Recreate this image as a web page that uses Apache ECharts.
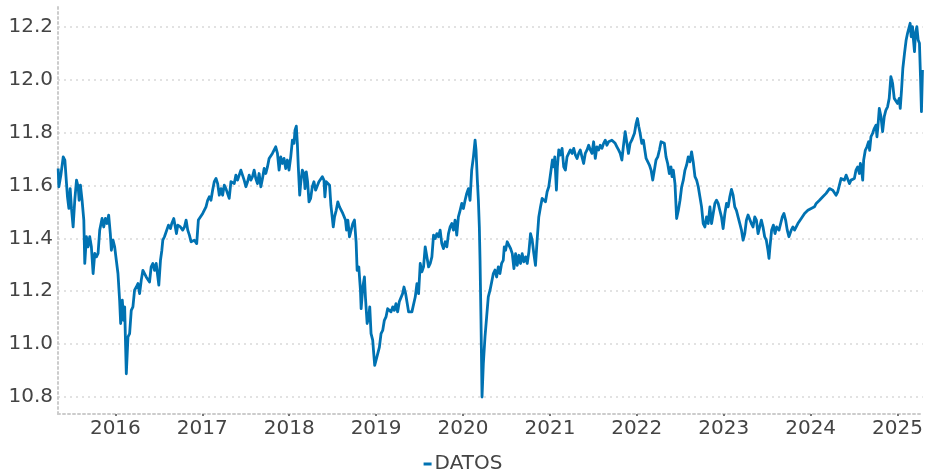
<!DOCTYPE html>
<html>
<head>
<meta charset="utf-8">
<script src="https://cdn.jsdelivr.net/npm/echarts@6/dist/echarts.min.js"></script>
<style>
  html, body { margin: 0; padding: 0; background: #ffffff; }
  #chart { width: 926px; height: 472px; }
</style>
</head>
<body>
<div id="chart"></div>
<script>
// ---- Data (decimal year, value) ----
const t2015 = [2015.342,2015.350,2015.373,2015.400,2015.419,2015.438,2015.449,2015.465,2015.480,2015.495,2015.514,2015.533,2015.553,2015.572,2015.583,2015.598,2015.617,2015.637,2015.648,2015.667,2015.686,2015.705,2015.724,2015.744,2015.763,2015.782,2015.801,2015.820,2015.847,2015.866,2015.885,2015.904,2015.923,2015.942,2015.954,2015.973,2015.992];
const v2015 = [11.664,11.595,11.639,11.708,11.696,11.607,11.557,11.513,11.588,11.513,11.443,11.544,11.620,11.595,11.544,11.601,11.544,11.469,11.305,11.406,11.368,11.406,11.368,11.267,11.343,11.330,11.343,11.431,11.475,11.443,11.475,11.456,11.488,11.418,11.355,11.393,11.368];

const t2016 = [2016.011,2016.030,2016.049,2016.061,2016.080,2016.095,2016.107,2016.118,2016.126,2016.145,2016.164,2016.183,2016.202,2016.221,2016.241,2016.260,2016.279,2016.298,2016.317,2016.336,2016.355,2016.374,2016.393,2016.412,2016.432,2016.451,2016.470,2016.489,2016.500,2016.519,2016.535,2016.546,2016.565,2016.584,2016.611,2016.634,2016.649,2016.672,2016.688,2016.703,2016.718,2016.749,2016.775,2016.795,2016.814,2016.833,2016.852,2016.871,2016.890,2016.909,2016.936,2016.955];
const v2016 = [11.317,11.267,11.166,11.078,11.166,11.090,11.141,10.989,10.888,11.027,11.040,11.128,11.141,11.204,11.216,11.229,11.191,11.242,11.279,11.273,11.254,11.254,11.235,11.292,11.305,11.279,11.305,11.254,11.223,11.317,11.355,11.393,11.406,11.412,11.450,11.437,11.456,11.475,11.469,11.418,11.450,11.443,11.431,11.443,11.469,11.431,11.412,11.387,11.380,11.393,11.380,11.469];

const t2017 = [2017.005,2017.043,2017.062,2017.081,2017.100,2017.119,2017.138,2017.158,2017.177,2017.196,2017.215,2017.234,2017.253,2017.272,2017.291,2017.310,2017.330,2017.349,2017.368,2017.387,2017.406,2017.425,2017.444,2017.463,2017.482,2017.502,2017.521,2017.540,2017.559,2017.578,2017.597,2017.616,2017.635,2017.654,2017.674,2017.693,2017.712,2017.731,2017.750,2017.769,2017.788,2017.807,2017.826,2017.845,2017.865,2017.884,2017.903,2017.922,2017.941,2017.960,2017.979,2017.998];
const v2017 = [11.494,11.519,11.544,11.557,11.544,11.582,11.614,11.626,11.607,11.563,11.588,11.563,11.601,11.588,11.582,11.551,11.614,11.620,11.607,11.639,11.620,11.639,11.658,11.639,11.620,11.595,11.614,11.639,11.620,11.633,11.658,11.626,11.607,11.645,11.595,11.626,11.664,11.645,11.670,11.702,11.696,11.721,11.727,11.746,11.721,11.658,11.708,11.683,11.702,11.664,11.696,11.658];

const t2018 = [2018.018,2018.037,2018.056,2018.067,2018.082,2018.094,2018.105,2018.121,2018.132,2018.151,2018.170,2018.182,2018.197,2018.212,2018.228,2018.247,2018.266,2018.285,2018.304,2018.323,2018.342,2018.361,2018.381,2018.400,2018.411,2018.426,2018.446,2018.465,2018.480,2018.495,2018.507,2018.522,2018.541,2018.560,2018.579,2018.598,2018.617,2018.648,2018.660,2018.675,2018.694,2018.713,2018.732,2018.751,2018.770,2018.782,2018.801,2018.820,2018.828,2018.847,2018.866,2018.877,2018.897,2018.916,2018.927,2018.942,2018.961,2018.973,2018.984,2018.999];
const v2018 = [11.708,11.771,11.759,11.809,11.824,11.759,11.670,11.563,11.607,11.658,11.645,11.588,11.651,11.614,11.538,11.551,11.595,11.614,11.582,11.582,11.614,11.614,11.633,11.620,11.557,11.614,11.614,11.601,11.525,11.481,11.443,11.481,11.506,11.538,11.519,11.513,11.494,11.469,11.431,11.469,11.406,11.406,11.456,11.469,11.387,11.279,11.292,11.204,11.134,11.216,11.254,11.179,11.078,11.103,11.141,11.040,11.015,10.964,10.920,10.939];

const t2019 = [2019.019,2019.038,2019.057,2019.076,2019.095,2019.114,2019.133,2019.153,2019.172,2019.191,2019.210,2019.229,2019.248,2019.267,2019.286,2019.305,2019.321,2019.340,2019.355,2019.374,2019.393,2019.412,2019.432,2019.451,2019.470,2019.489,2019.508,2019.527,2019.546,2019.565,2019.584,2019.604,2019.623,2019.642,2019.661,2019.680,2019.699,2019.718,2019.737,2019.756,2019.775,2019.795,2019.814,2019.833,2019.852,2019.871,2019.890,2019.909,2019.928,2019.947,2019.967,2019.986];
const v2019 = [10.964,10.989,11.040,11.052,11.090,11.103,11.134,11.141,11.122,11.141,11.128,11.153,11.122,11.160,11.166,11.191,11.216,11.191,11.160,11.122,11.128,11.122,11.128,11.179,11.229,11.191,11.305,11.273,11.292,11.368,11.368,11.292,11.305,11.330,11.412,11.399,11.418,11.406,11.431,11.380,11.361,11.387,11.368,11.418,11.443,11.456,11.431,11.469,11.412,11.481,11.506,11.532];

const t2020 = [2020.005,2020.024,2020.043,2020.062,2020.081,2020.100,2020.120,2020.139,2020.150,2020.165,2020.177,2020.188,2020.196,2020.207,2020.219,2020.234,2020.253,2020.272,2020.291,2020.311,2020.330,2020.349,2020.368,2020.387,2020.406,2020.425,2020.444,2020.463,2020.475,2020.490,2020.509,2020.528,2020.548,2020.567,2020.586,2020.605,2020.624,2020.643,2020.662,2020.681,2020.700,2020.720,2020.739,2020.758,2020.777,2020.796,2020.815,2020.834,2020.853,2020.872,2020.892,2020.911,2020.930,2020.949,2020.968,2020.987];
const v2020 = [11.513,11.544,11.570,11.588,11.544,11.658,11.708,11.771,11.733,11.620,11.544,11.443,11.317,11.090,10.800,10.926,11.027,11.103,11.179,11.204,11.235,11.267,11.280,11.254,11.292,11.267,11.305,11.317,11.368,11.355,11.387,11.380,11.361,11.342,11.286,11.342,11.298,11.336,11.305,11.342,11.311,11.330,11.305,11.349,11.418,11.393,11.342,11.298,11.393,11.481,11.519,11.551,11.557,11.538,11.576,11.595];

const t2021 = [2021.006,2021.018,2021.029,2021.044,2021.056,2021.075,2021.086,2021.102,2021.121,2021.140,2021.159,2021.178,2021.197,2021.216,2021.235,2021.255,2021.274,2021.293,2021.312,2021.331,2021.350,2021.369,2021.388,2021.407,2021.427,2021.446,2021.465,2021.484,2021.503,2021.522,2021.541,2021.560,2021.579,2021.599,2021.618,2021.637,2021.656,2021.675,2021.694,2021.713,2021.732,2021.751,2021.771,2021.790,2021.809,2021.828,2021.847,2021.866,2021.885,2021.904,2021.923,2021.942,2021.973,2021.992];
const v2021 = [11.601,11.670,11.696,11.670,11.708,11.582,11.670,11.734,11.715,11.740,11.670,11.658,11.708,11.721,11.734,11.721,11.740,11.715,11.702,11.721,11.734,11.708,11.683,11.721,11.734,11.752,11.734,11.721,11.765,11.702,11.746,11.734,11.752,11.740,11.759,11.771,11.752,11.765,11.759,11.771,11.765,11.759,11.746,11.734,11.721,11.696,11.752,11.803,11.809,11.721,11.759,11.771,11.797,11.834];

const t2022 = [2022.007,2022.023,2022.038,2022.057,2022.076,2022.092,2022.107,2022.126,2022.145,2022.164,2022.183,2022.202,2022.221,2022.241,2022.260,2022.279,2022.298,2022.317,2022.336,2022.355,2022.374,2022.393,2022.405,2022.420,2022.439,2022.458,2022.478,2022.497,2022.516,2022.535,2022.554,2022.573,2022.592,2022.611,2022.630,2022.649,2022.669,2022.688,2022.707,2022.726,2022.745,2022.764,2022.783,2022.802,2022.821,2022.841,2022.860,2022.879,2022.898,2022.917,2022.936,2022.955,2022.974,2022.993];
const v2022 = [11.853,11.822,11.797,11.759,11.771,11.734,11.702,11.696,11.677,11.658,11.620,11.658,11.696,11.708,11.734,11.765,11.771,11.759,11.708,11.683,11.645,11.670,11.633,11.658,11.607,11.475,11.506,11.544,11.595,11.620,11.658,11.677,11.708,11.689,11.727,11.689,11.633,11.620,11.595,11.557,11.519,11.456,11.443,11.481,11.456,11.519,11.456,11.494,11.532,11.544,11.532,11.506,11.481,11.437];

const t2023 = [2023.013,2023.032,2023.051,2023.070,2023.089,2023.108,2023.127,2023.146,2023.165,2023.185,2023.204,2023.223,2023.242,2023.261,2023.280,2023.299,2023.318,2023.337,2023.357,2023.376,2023.395,2023.414,2023.433,2023.452,2023.471,2023.490,2023.509,2023.521,2023.532,2023.551,2023.571,2023.590,2023.609,2023.636,2023.655,2023.674,2023.693,2023.712,2023.731,2023.750,2023.762,2023.777,2023.796,2023.815,2023.834,2023.853,2023.872,2023.892,2023.911,2023.930,2023.949,2023.968,2023.987];
const v2023 = [11.494,11.532,11.519,11.557,11.585,11.563,11.519,11.506,11.481,11.456,11.431,11.393,11.418,11.469,11.488,11.481,11.456,11.443,11.481,11.469,11.418,11.443,11.469,11.443,11.406,11.393,11.355,11.324,11.368,11.431,11.450,11.418,11.443,11.431,11.456,11.481,11.494,11.469,11.431,11.406,11.399,11.431,11.443,11.431,11.443,11.456,11.462,11.475,11.481,11.494,11.500,11.506,11.509];

const t2024 = [2024.006,2024.025,2024.044,2024.064,2024.083,2024.102,2024.121,2024.140,2024.159,2024.178,2024.197,2024.217,2024.236,2024.255,2024.274,2024.293,2024.312,2024.331,2024.350,2024.369,2024.388,2024.408,2024.427,2024.446,2024.465,2024.484,2024.503,2024.522,2024.541,2024.561,2024.572,2024.583,2024.599,2024.610,2024.629,2024.648,2024.667,2024.679,2024.694,2024.713,2024.732,2024.752,2024.763,2024.774,2024.790,2024.809,2024.828,2024.847,2024.866,2024.885,2024.904,2024.923,2024.943,2024.962,2024.981];
const v2024 = [11.513,11.519,11.519,11.532,11.538,11.544,11.551,11.557,11.563,11.570,11.576,11.588,11.595,11.582,11.576,11.563,11.576,11.601,11.626,11.633,11.620,11.639,11.645,11.607,11.620,11.614,11.626,11.658,11.670,11.645,11.683,11.670,11.620,11.696,11.733,11.746,11.765,11.733,11.784,11.797,11.815,11.828,11.784,11.822,11.891,11.860,11.803,11.860,11.885,11.897,11.929,12.011,11.986,11.929,11.923];

const t2025 = [2025.000,2025.019,2025.031,2025.046,2025.061,2025.080,2025.099,2025.115,2025.130,2025.145,2025.157,2025.172,2025.183,2025.195,2025.206,2025.222,2025.237,2025.252,2025.264,2025.275,2025.287];
const v2025 = [11.910,11.929,11.891,11.961,12.043,12.099,12.150,12.175,12.194,12.213,12.162,12.200,12.150,12.106,12.175,12.200,12.150,12.137,12.011,11.879,12.036];

// Axis tick labels
const yearTicks = [2016, 2017, 2018, 2019, 2020, 2021, 2022, 2023, 2024, 2025];
const valueTicks = [10.8, 11.0, 11.2, 11.4, 11.6, 11.8, 12.0, 12.2];
const seriesName = 'DATOS';

// ---- Build ----
const times = [].concat(t2015, t2016, t2017, t2018, t2019, t2020, t2021, t2022, t2023, t2024, t2025);
const values = [].concat(v2015, v2016, v2017, v2018, v2019, v2020, v2021, v2022, v2023, v2024, v2025);
const seriesData = times.map((t, i) => [t, values[i]]);

const FONT = 'DejaVu Sans';
const chart = echarts.init(document.getElementById('chart'), null, { renderer: 'canvas' });
chart.setOption({
  animation: false,
  backgroundColor: '#ffffff',
  textStyle: { fontFamily: FONT },
  grid: { left: 58, right: 0, top: 5, bottom: 58, containLabel: false },
  legend: {
    data: [seriesName],
    left: 'center',
    top: 449,
    icon: 'rect',
    itemWidth: 8,
    itemHeight: 3,
    textStyle: { fontFamily: FONT, fontSize: 20, color: '#444444', padding: [0, 0, 0, -2] }
  },
  xAxis: {
    type: 'value',
    min: 2015.34,
    max: 2025.29,
    axisLine: { show: true, lineStyle: { color: '#cccccc', width: 2, type: [2, 3] } },
    axisTick: { show: true, customValues: yearTicks, length: 2, lineStyle: { color: '#777777', width: 2 } },
    axisLabel: {
      customValues: yearTicks,
      formatter: v => String(Math.round(v)),
      fontFamily: FONT, fontSize: 20, color: '#444444', margin: 5
    },
    splitLine: { show: false }
  },
  yAxis: {
    type: 'value',
    min: 10.736,
    max: 12.282,
    axisLine: { show: true, lineStyle: { color: '#cccccc', width: 2, type: [2, 3] } },
    axisTick: { show: false, customValues: valueTicks },
    axisLabel: {
      customValues: valueTicks,
      formatter: v => v.toFixed(1),
      fontFamily: FONT, fontSize: 20, color: '#444444', margin: 5
    },
    splitLine: { show: true, lineStyle: { color: '#e2e2e2', width: 2, type: [2, 4] } }
  },
  series: [{
    name: seriesName,
    type: 'line',
    data: seriesData,
    showSymbol: false,
    symbol: 'none',
    lineStyle: { color: '#0072B2', width: 2.8, join: 'round' },
    itemStyle: { color: '#0072B2' }
  }]
});
</script>
</body>
</html>
